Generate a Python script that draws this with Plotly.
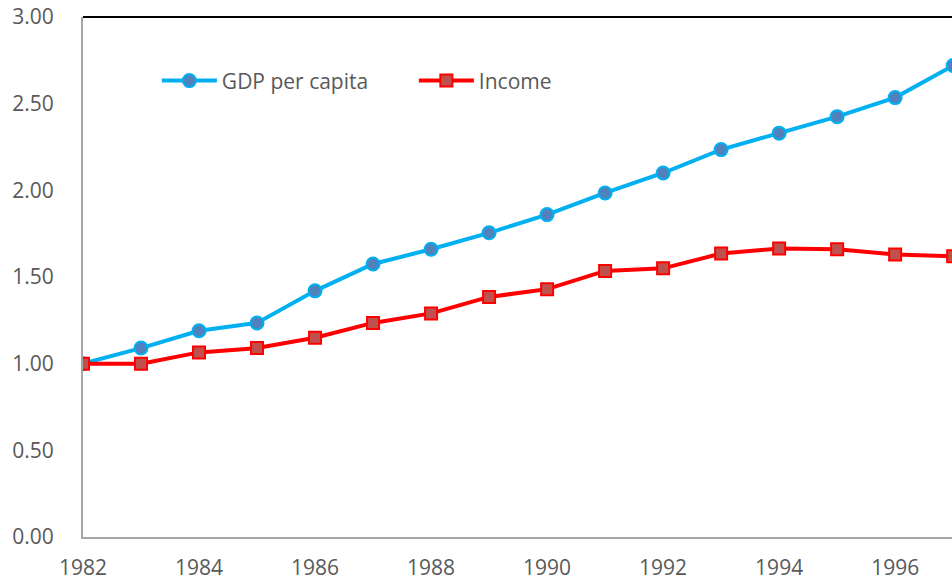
import plotly.graph_objects as go

years = list(range(1982, 1998))
gdp_per_capita = [1.00, 1.09, 1.19, 1.235, 1.42, 1.575, 1.66, 1.755, 1.86, 1.985,
                  2.10, 2.235, 2.33, 2.425, 2.535, 2.72]
income = [1.00, 1.00, 1.065, 1.09, 1.15, 1.235, 1.29, 1.385, 1.43, 1.535,
          1.55, 1.635, 1.665, 1.66, 1.63, 1.62]

FONT = "Open Sans"
TICK_COLOR = "#595959"

fig = go.Figure()
fig.add_trace(go.Scatter(
    x=years, y=gdp_per_capita, name="GDP per capita", mode="lines+markers",
    line=dict(color="#00B0F0", width=4),
    marker=dict(symbol="circle", size=13, color="#4F81BD",
                line=dict(color="#00B0F0", width=2)),
))
fig.add_trace(go.Scatter(
    x=years, y=income, name="Income", mode="lines+markers",
    line=dict(color="#FF0000", width=4),
    marker=dict(symbol="square", size=12, color="#C0504D",
                line=dict(color="#FF0000", width=2)),
))

fig.update_layout(
    width=952, height=583,
    margin=dict(l=83, r=0, t=17, b=46),
    paper_bgcolor="white", plot_bgcolor="white",
    font=dict(family=FONT, size=21, color=TICK_COLOR),
    showlegend=True,
    legend=dict(orientation="h", x=0.085, y=0.877, xanchor="left", yanchor="middle",
                font=dict(family=FONT, size=21, color=TICK_COLOR),
                bgcolor="rgba(0,0,0,0)", entrywidth=187, itemwidth=55),
    xaxis=dict(range=[1982, 1996.98], tickmode="linear", tick0=1982, dtick=2,
               showgrid=False, zeroline=False, showline=True, linecolor="#A6A6A6",
               linewidth=2, ticks="", ticklabelstandoff=11,
               tickfont=dict(family=FONT, size=21, color=TICK_COLOR)),
    yaxis=dict(range=[0, 3], tickmode="linear", tick0=0, dtick=0.5, tickformat=".2f",
               showgrid=False, zeroline=False, showline=True, linecolor="#A6A6A6",
               linewidth=2, ticks="", ticklabelstandoff=23,
               tickfont=dict(family=FONT, size=21, color=TICK_COLOR)),
)

# Dark border along the top of the plotting area
fig.add_shape(type="line", xref="paper", yref="paper", x0=0, x1=1, y0=1, y1=1,
              line=dict(color="black", width=2))

fig.write_html("out.html")
